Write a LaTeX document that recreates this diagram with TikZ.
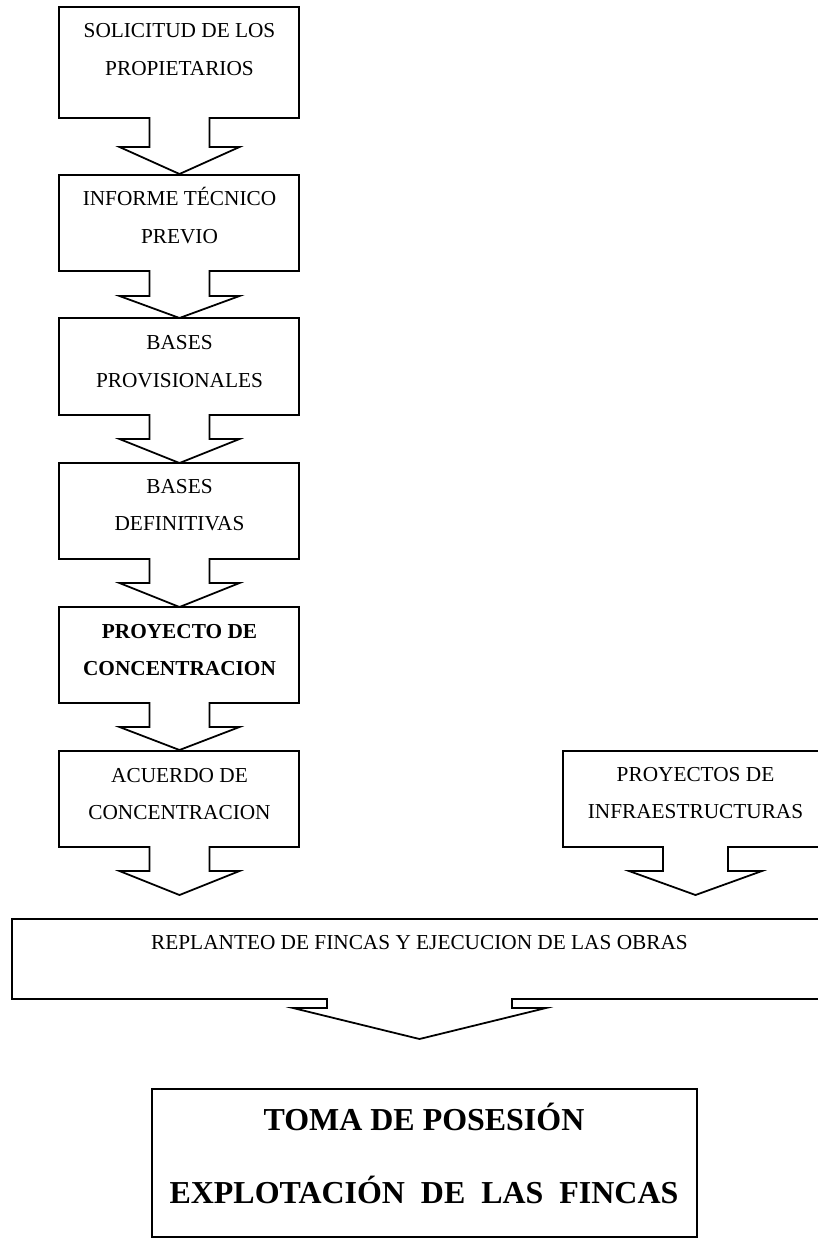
\documentclass[tikz,border=0pt]{standalone}
\usepackage{fontspec}
\setmainfont{Liberation Serif}
\tikzset{
  outline/.style={draw=black, line width=1pt, line join=miter},
  lbl/.style={anchor=base, inner sep=0pt, font=\fontsize{12}{14}\selectfont},
  blbl/.style={anchor=base, inner sep=0pt, font=\fontsize{12}{14}\selectfont\bfseries},
  biglbl/.style={anchor=base, inner sep=0pt, font=\fontsize{18}{21}\selectfont\bfseries}
}
% L R T B center stemhalf headtop headhalf tipy
\newcommand{\dcallout}[9]{%
  \draw[outline] (#1,#3) -- (#2,#3) -- (#2,#4) -- ({#5+#6},#4) -- ({#5+#6},#7) -- ({#5+#8},#7)
    -- (#5,#9) -- ({#5-#8},#7) -- ({#5-#6},#7) -- ({#5-#6},#4) -- (#1,#4) -- cycle;}
\begin{document}
\begin{tikzpicture}[x=0.5634pt, y=-0.5634pt]
\useasboundingbox (0,0) rectangle (818,1248);
\clip (0,0) rectangle (818,1248);
% left column
\dcallout{59}{299}{7}{118}{179.5}{30}{147}{60}{174}
\dcallout{59}{299}{175}{271}{179.5}{30}{296}{60}{318}
\dcallout{59}{299}{318}{415}{179.5}{30}{439}{60}{463}
\dcallout{59}{299}{463}{559}{179.5}{30}{583}{60}{607}
\dcallout{59}{299}{607}{703}{179.5}{30}{727}{60}{750}
\dcallout{59}{299}{751}{847}{179.5}{30}{871}{60}{895}
% right
\dcallout{563}{828}{751}{847}{695.5}{32.5}{871}{66.5}{895}
% wide
\dcallout{12}{828}{919}{999}{419.5}{92.5}{1008}{126.5}{1039}
% bottom box
\draw[outline] (152,1089) rectangle (697,1237);

\node[lbl] (s1a) at (179.5,37) {SOLICITUD DE LOS};
\node[lbl] (s1b) at (179.5,75) {PROPIETARIOS};
\node[lbl] (s2a) at (179.5,205) {INFORME TÉCNICO};
\node[lbl] (s2b) at (179.5,243) {PREVIO};
\node[lbl] (s3a) at (179.5,349) {BASES};
\node[lbl] (s3b) at (179.5,387) {PROVISIONALES};
\node[lbl] (s4a) at (179.5,493) {BASES};
\node[lbl] (s4b) at (179.5,530) {DEFINITIVAS};
\node[blbl] (s5a) at (179.5,638) {PROYECTO DE};
\node[blbl] (s5b) at (179.5,675) {CONCENTRACION};
\node[lbl] (s6a) at (179.5,782) {ACUERDO DE};
\node[lbl] (s6b) at (179.5,819) {CONCENTRACION};
\node[lbl] (r1a) at (695.5,781) {PROYECTOS DE};
\node[lbl] (r1b) at (695.5,818) {INFRAESTRUCTURAS};
\node[lbl] (w1) at (419.5,949) {REPLANTEO DE FINCAS Y EJECUCION DE LAS OBRAS};
\node[biglbl] (b1) at (424,1130) {TOMA DE POSESIÓN};
\node[biglbl] (b2) at (424,1203) {EXPLOTACIÓN\ \ DE\ \ LAS\ \ FINCAS};
\end{tikzpicture}
\end{document}
